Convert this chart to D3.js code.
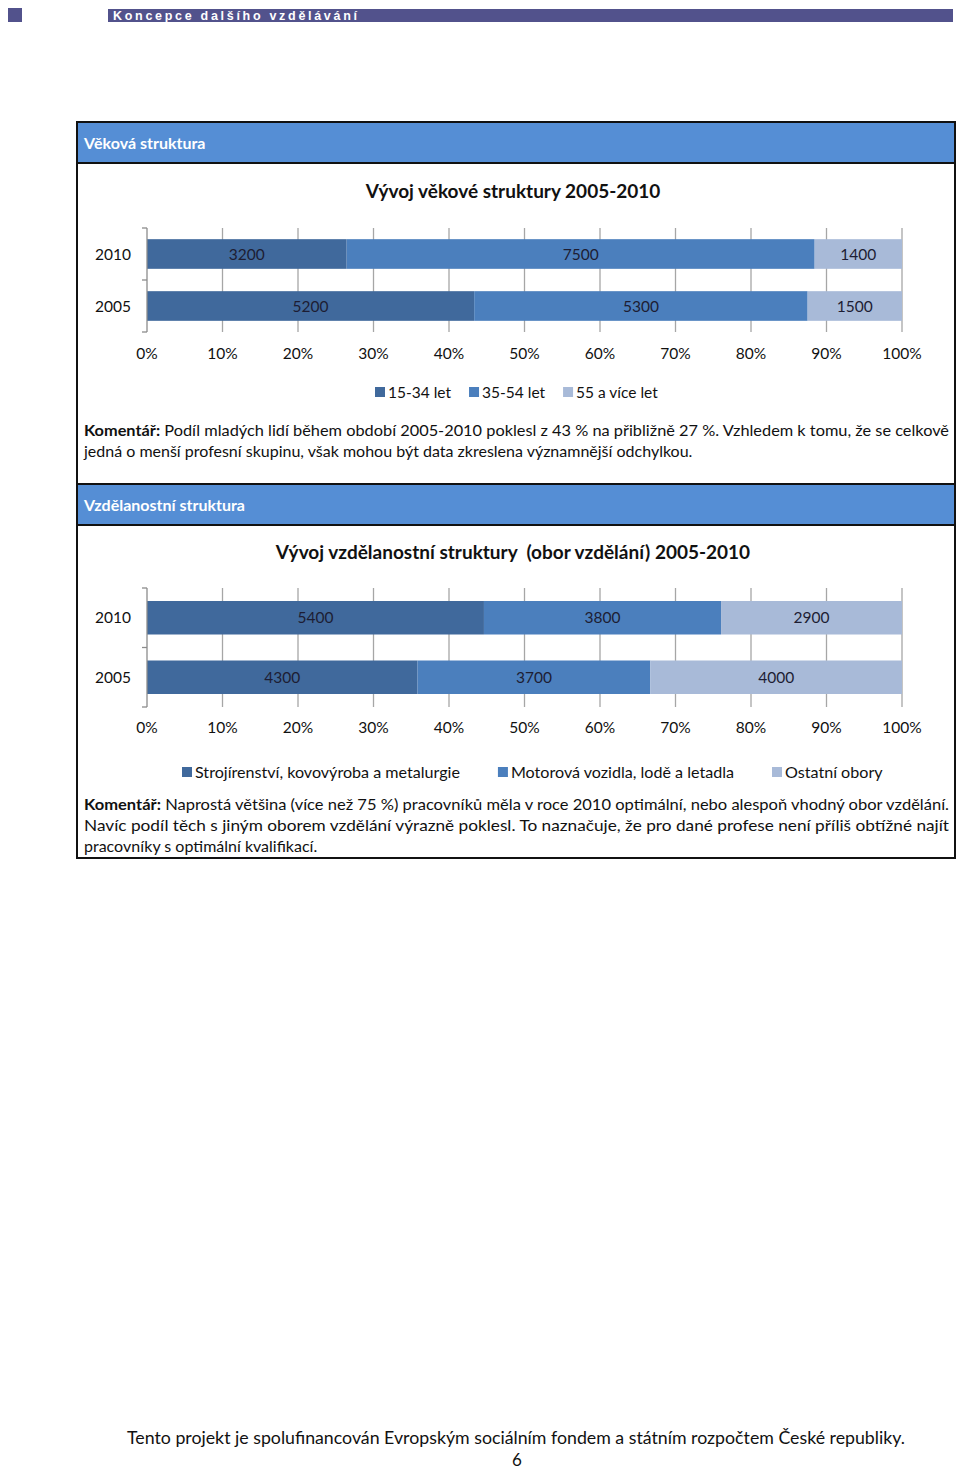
<!DOCTYPE html>
<html>
<head>
<meta charset="utf-8">
<script src="https://cdn.jsdelivr.net/npm/d3@7"></script>
<style>
  html, body { margin: 0; padding: 0; background: #fff; }
  svg { display: block; }
  text { font-family: Lato, "Open Sans", "Noto Sans", sans-serif; }
</style>
</head>
<body>
<svg id="page" width="960" height="1469"></svg>
<script>
// ---------- data ----------
const categories = ["2010", "2005"];
const ageSeries = ["15-34 let", "35-54 let", "55 a více let"];
const age2010 = [3200, 7500, 1400];
const age2005 = [5200, 5300, 1500];
const eduSeries = ["Strojírenství, kovovýroba a metalurgie", "Motorová vozidla, lodě a letadla", "Ostatní obory"];
const edu2010 = [5400, 3800, 2900];
const edu2005 = [4300, 3700, 4000];
const tickValues = [0, 0.1, 0.2, 0.3, 0.4, 0.5, 0.6, 0.7, 0.8, 0.9, 1.0];
const tickLabels = ["0%", "10%", "20%", "30%", "40%", "50%", "60%", "70%", "80%", "90%", "100%"];

const colors = ["#40699c", "#4b7fbd", "#a8bad8"];

const svg = d3.select("#page");

// ---------- page header ----------
svg.append("rect").attr("x", 8).attr("y", 8).attr("width", 14).attr("height", 14).attr("fill", "#52528c");
svg.append("rect").attr("x", 108).attr("y", 9).attr("width", 845).attr("height", 13).attr("fill", "#52528c");
svg.append("text").attr("x", 113).attr("y", 20)
  .attr("textLength", 244).attr("lengthAdjust", "spacing")
  .style("font-family", "'Liberation Sans', Arial, sans-serif")
  .style("font-weight", "bold").style("font-size", "12.5px").attr("fill", "#fff")
  .text("Koncepce dalšího vzdělávání");

// ---------- boxes ----------
function sectionBox(y0, y1, title) {
  svg.append("rect").attr("x", 77).attr("y", y0).attr("width", 878).attr("height", y1 - y0)
    .attr("fill", "#fff").attr("stroke", "#111").attr("stroke-width", 2);
  svg.append("rect").attr("x", 77).attr("y", y0).attr("width", 878).attr("height", 41)
    .attr("fill", "#558ed5").attr("stroke", "#111").attr("stroke-width", 2);
  svg.append("text").attr("x", 84).attr("y", y0 + 27)
    .style("font-weight", "bold").style("font-size", "16px").attr("fill", "#fff").text(title);
}
sectionBox(122, 484, "Věková struktura");
sectionBox(484, 858, "Vzdělanostní struktura");

// ---------- charts ----------
function drawChart(cfg) {
  const g = svg.append("g");
  const x = d3.scaleLinear().domain([0, 1]).range([147, 902]);
  const y = d3.scaleBand().domain(categories).range([cfg.top, cfg.bottom])
    .paddingInner(cfg.pad).paddingOuter(cfg.pad / 2);

  g.append("text").attr("x", 513).attr("y", cfg.titleY).attr("text-anchor", "middle")
    .style("white-space", "pre")
    .style("font-weight", "bold").style("font-size", "19px").attr("fill", "#111").text(cfg.title);

  // gridlines
  g.append("g").selectAll("line").data(tickValues.slice(1)).join("line")
    .attr("x1", d => x(d)).attr("x2", d => x(d))
    .attr("y1", cfg.top).attr("y2", cfg.bottom)
    .attr("stroke", "#a6a6a6").attr("stroke-width", 1.3);

  // rows -> stacked (percent)
  const rows = categories.map((c, i) => {
    const vals = cfg.values[i];
    const total = d3.sum(vals);
    let acc = 0;
    return vals.map((v, k) => {
      const seg = { cat: c, k, v, x0: acc / total, x1: (acc + v) / total };
      acc += v;
      return seg;
    });
  }).flat();

  g.append("g").selectAll("rect").data(rows).join("rect")
    .attr("x", d => x(d.x0)).attr("width", d => x(d.x1) - x(d.x0))
    .attr("y", d => y(d.cat)).attr("height", y.bandwidth())
    .attr("fill", d => colors[d.k]);

  g.append("g").selectAll("text").data(rows).join("text")
    .attr("x", d => (x(d.x0) + x(d.x1)) / 2)
    .attr("y", d => y(d.cat) + y.bandwidth() / 2 + 5.5)
    .attr("text-anchor", "middle").style("font-size", "15.5px").attr("fill", "#1d1d33")
    .text(d => d.v);

  // y axis
  const ya = g.append("g");
  ya.append("line").attr("x1", 147).attr("x2", 147).attr("y1", cfg.top).attr("y2", cfg.bottom)
    .attr("stroke", "#8c8c8c").attr("stroke-width", 1.3);
  const yTicks = [cfg.top, (cfg.top + cfg.bottom) / 2, cfg.bottom];
  ya.selectAll("line.t").data(yTicks).join("line").attr("class", "t")
    .attr("x1", 142).attr("x2", 147).attr("y1", d => d).attr("y2", d => d)
    .attr("stroke", "#8c8c8c").attr("stroke-width", 1.3);
  ya.selectAll("text").data(categories).join("text")
    .attr("x", 131).attr("y", d => y(d) + y.bandwidth() / 2 + 5.5)
    .attr("text-anchor", "end").style("font-size", "15.5px").attr("fill", "#111").text(d => d);

  // x axis labels
  g.append("g").selectAll("text").data(tickValues).join("text")
    .attr("x", d => x(d)).attr("y", cfg.xLabelY)
    .attr("text-anchor", "middle").style("font-size", "15.5px").attr("fill", "#111")
    .text((d, i) => tickLabels[i]);

  // legend
  const lg = g.append("g");
  let cx = cfg.legendX;
  cfg.series.forEach((s, i) => {
    lg.append("rect").attr("x", cx).attr("y", cfg.legendY - 5).attr("width", 10).attr("height", 10)
      .attr("fill", colors[i]);
    const t = lg.append("text").attr("x", cx + 13).attr("y", cfg.legendY + 5.5)
      .style("font-size", cfg.legendFont).attr("fill", "#111").text(s);
    cx += 13 + t.node().getComputedTextLength() + cfg.legendGap;
  });
}

drawChart({
  title: "Vývoj věkové struktury 2005-2010", titleY: 198,
  top: 228, bottom: 332, pad: 0.43,
  values: [age2010, age2005], series: ageSeries,
  xLabelY: 359, legendX: 375, legendY: 392, legendGap: 18, legendFont: "15.5px"
});

drawChart({
  title: "Vývoj vzdělanostní struktury  (obor vzdělání) 2005-2010", titleY: 559,
  top: 588, bottom: 707, pad: 0.437,
  values: [edu2010, edu2005], series: eduSeries,
  xLabelY: 733, legendX: 182, legendY: 772, legendGap: 38, legendFont: "16.1px"
});

// ---------- comments ----------
function commentLines(lines, y0, lh) {
  lines.forEach((ln, i) => {
    const t = svg.append("text").attr("x", 84).attr("y", y0 + i * lh)
      .style("font-size", "16px").attr("fill", "#111");
    if (ln.justify) t.attr("textLength", 865).attr("lengthAdjust", "spacingAndGlyphs");
    if (ln.bold) t.append("tspan").style("font-weight", "bold").text(ln.bold);
    t.append("tspan").text(ln.text);
  });
}
commentLines([
  { bold: "Komentář:", text: " Podíl mladých lidí během období 2005-2010 poklesl z 43 % na přibližně 27 %. Vzhledem k tomu, že se celkově", justify: true },
  { text: "jedná o menší profesní skupinu, však mohou být data zkreslena významnější odchylkou." }
], 436, 21);

commentLines([
  { bold: "Komentář:", text: " Naprostá většina (více než 75 %) pracovníků měla v roce 2010 optimální, nebo alespoň vhodný obor vzdělání.", justify: true },
  { text: "Navíc podíl těch s jiným oborem vzdělání výrazně poklesl. To naznačuje, že pro dané profese není příliš obtížné najít", justify: true },
  { text: "pracovníky s optimální kvalifikací." }
], 810, 21);

// ---------- footer ----------
svg.append("text").attr("x", 516).attr("y", 1444).attr("text-anchor", "middle")
  .attr("textLength", 778).attr("lengthAdjust", "spacingAndGlyphs")
  .style("font-size", "17px").attr("fill", "#111")
  .text("Tento projekt je spolufinancován Evropským sociálním fondem a státním rozpočtem České republiky.");
svg.append("text").attr("x", 517).attr("y", 1466).attr("text-anchor", "middle")
  .style("font-size", "17px").attr("fill", "#111").text("6");
</script>
</body>
</html>
